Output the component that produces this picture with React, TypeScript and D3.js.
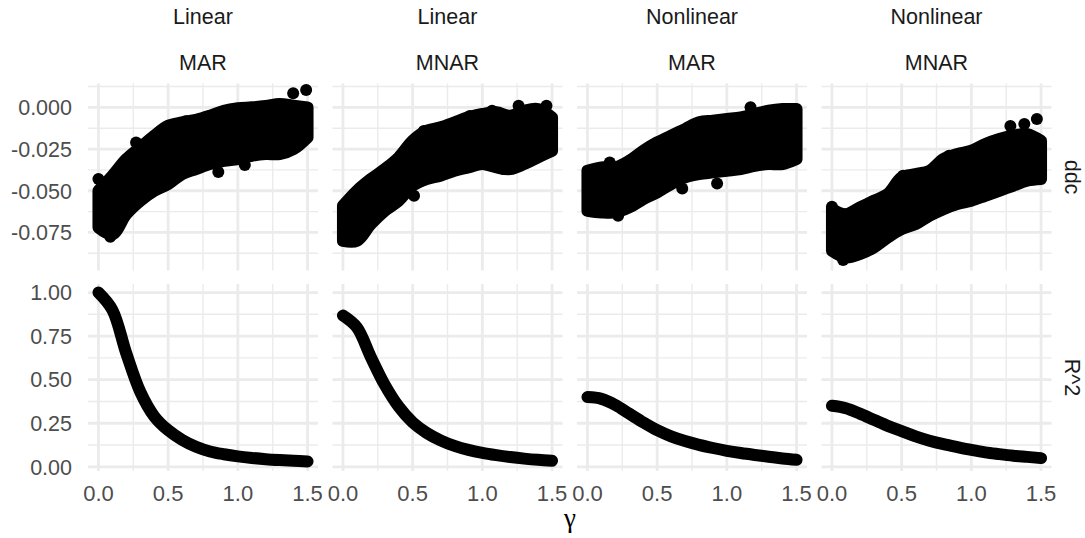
import React from "react";
import { scaleLinear, area, line, curveCatmullRom } from "d3";

// facet columns
const models = ["Linear", "Linear", "Nonlinear", "Nonlinear"];
const mechanisms = ["MAR", "MNAR", "MAR", "MNAR"];
const rowLabels = ["ddc", "R^2"];

// gamma grid the values were read at
const gammas = [0, 0.1, 0.2, 0.3, 0.4, 0.5, 0.6, 0.7, 0.8, 0.9, 1.0, 1.1, 1.2, 1.3, 1.4, 1.5];

// ddc point cloud: upper / lower edge (point centres)
const ddcUpper = [
  [-0.05, -0.041, -0.031, -0.024, -0.017, -0.011, -0.009, -0.0075, -0.005, -0.002, -0.0005, 0.0, 0.0008, 0.002, 0.001, 0.0],
  [-0.059, -0.05, -0.043, -0.037, -0.03, -0.02, -0.014, -0.012, -0.009, -0.006, -0.004, -0.003, -0.005, -0.002, -0.001, -0.006],
  [-0.038, -0.036, -0.036, -0.032, -0.026, -0.021, -0.017, -0.013, -0.009, -0.008, -0.007, -0.006, -0.004, -0.002, -0.001, -0.001],
  [-0.061, -0.064, -0.06, -0.056, -0.052, -0.042, -0.04, -0.038, -0.031, -0.028, -0.026, -0.022, -0.019, -0.017, -0.016, -0.02],
];
const ddcLower = [
  [-0.072, -0.076, -0.064, -0.056, -0.05, -0.046, -0.04, -0.037, -0.034, -0.032, -0.031, -0.029, -0.028, -0.028, -0.025, -0.018],
  [-0.08, -0.08, -0.07, -0.062, -0.056, -0.047, -0.043, -0.041, -0.038, -0.036, -0.034, -0.036, -0.037, -0.034, -0.03, -0.026],
  [-0.062, -0.063, -0.063, -0.06, -0.055, -0.051, -0.046, -0.042, -0.04, -0.039, -0.038, -0.037, -0.035, -0.034, -0.034, -0.031],
  [-0.086, -0.09, -0.088, -0.084, -0.078, -0.073, -0.07, -0.065, -0.061, -0.058, -0.056, -0.053, -0.05, -0.047, -0.044, -0.043],
];
// stray points at or outside the edge of the main cloud [gamma, ddc]
const ddcOutliers = [
  [[0.0, -0.043], [0.085, -0.0775], [0.27, -0.021], [0.43, -0.0154], [0.86, -0.0388], [1.05, -0.0346], [1.397, 0.0084], [1.49, 0.0104], [0.63, -0.0083], [1.21, -0.028]],
  [[0.51, -0.053], [1.26, 0.001], [1.46, 0.001], [1.07, -0.002], [0.58, -0.0142], [0.91, -0.0052], [1.15, -0.037]],
  [[0.16, -0.033], [1.17, 0.0], [0.68, -0.0486], [0.93, -0.0456], [0.22, -0.065], [0.71, -0.013], [1.47, -0.0012]],
  [[1.28, -0.0112], [1.38, -0.01], [1.47, -0.007], [0.08, -0.0915], [0.0, -0.0596], [0.51, -0.041], [0.84, -0.029]],
];

// R^2 curves
const r2Values = [
  [1.0, 0.9, 0.65, 0.43, 0.29, 0.21, 0.155, 0.115, 0.088, 0.072, 0.06, 0.051, 0.044, 0.039, 0.035, 0.031],
  [0.868, 0.8, 0.63, 0.47, 0.345, 0.255, 0.195, 0.152, 0.12, 0.097, 0.08, 0.067, 0.056, 0.047, 0.04, 0.035],
  [0.4, 0.39, 0.355, 0.305, 0.255, 0.21, 0.175, 0.148, 0.126, 0.108, 0.092, 0.079, 0.068, 0.058, 0.048, 0.04],
  [0.35, 0.336, 0.305, 0.27, 0.235, 0.205, 0.175, 0.15, 0.13, 0.113, 0.097, 0.083, 0.073, 0.064, 0.057, 0.05],
];

// ticks
const xMajor = [0, 0.5, 1, 1.5];
const xMinor = [0.25, 0.75, 1.25];
const xTickLabels = ["0.0", "0.5", "1.0", "1.5"];
const ddcMajor = [-0.075, -0.05, -0.025, 0];
const ddcMinor = [-0.0875, -0.0625, -0.0375, -0.0125, 0.0125];
const ddcTickLabels = ["-0.075", "-0.050", "-0.025", "0.000"];
const r2Major = [0, 0.25, 0.5, 0.75, 1];
const r2Minor = [0.125, 0.375, 0.625, 0.875];
const r2TickLabels = ["0.00", "0.25", "0.50", "0.75", "1.00"];

const W = 1085;
const H = 538;
const panelLeft = 88;
const panelW = 230;
const panelStep = 244.5;
const rowTop = [83.5, 284];
const panelH = 187;
const r = 6;
const font = "'Liberation Sans', Arial, sans-serif";

export default function App() {
  const yScales = [
    scaleLinear().domain([-0.0978, 0.0143]).range([rowTop[0] + panelH, rowTop[0]]),
    scaleLinear().domain([-0.024, 1.049]).range([rowTop[1] + panelH, rowTop[1]]),
  ];
  const majors = [ddcMajor, r2Major];
  const minors = [ddcMinor, r2Minor];
  const yLabels = [ddcTickLabels, r2TickLabels];

  return (
    <svg width={W} height={H} style={{ position: "absolute", left: 0, top: 0, background: "white" }}>
      {models.map((m, i) => {
        const left = panelLeft + i * panelStep;
        const x = scaleLinear().domain([-0.075, 1.575]).range([left, left + panelW]);
        const cx = left + panelW / 2;
        const cloud = area<number>()
          .x((g) => x(g))
          .y0((_, k) => yScales[0](ddcLower[i][k]))
          .y1((_, k) => yScales[0](ddcUpper[i][k]))
          .curve(curveCatmullRom);
        const r2line = line<number>()
          .x((g) => x(g))
          .y((_, k) => yScales[1](r2Values[i][k]))
          .curve(curveCatmullRom);
        return (
          <g key={i}>
            <text x={cx} y={24} textAnchor="middle" fontFamily={font} fontSize={21.5} fill="#1a1a1a">{m}</text>
            <text x={cx} y={70} textAnchor="middle" fontFamily={font} fontSize={21.5} fill="#1a1a1a">{mechanisms[i]}</text>
            {[0, 1].map((row) => {
              const y = yScales[row];
              const top = rowTop[row];
              return (
                <g key={row}>
                  {minors[row].map((v) => (
                    <line key={"hm" + v} x1={left} x2={left + panelW} y1={y(v)} y2={y(v)} stroke="#ebebeb" strokeWidth={1.4} />
                  ))}
                  {xMinor.map((v) => (
                    <line key={"vm" + v} x1={x(v)} x2={x(v)} y1={top} y2={top + panelH} stroke="#ebebeb" strokeWidth={1.4} />
                  ))}
                  {majors[row].map((v) => (
                    <line key={"hM" + v} x1={left} x2={left + panelW} y1={y(v)} y2={y(v)} stroke="#ebebeb" strokeWidth={2.8} />
                  ))}
                  {xMajor.map((v) => (
                    <line key={"vM" + v} x1={x(v)} x2={x(v)} y1={top} y2={top + panelH} stroke="#ebebeb" strokeWidth={2.8} />
                  ))}
                </g>
              );
            })}
            <path d={cloud(gammas) || ""} fill="black" stroke="black" strokeWidth={2 * r} strokeLinejoin="round" />
            {ddcOutliers[i].map(([g, v], k) => (
              <circle key={k} cx={x(g)} cy={yScales[0](v)} r={r} fill="black" />
            ))}
            <path d={r2line(gammas) || ""} fill="none" stroke="black" strokeWidth={2 * r} strokeLinecap="round" strokeLinejoin="round" />
            {xMajor.map((v, k) => (
              <text key={v} x={x(v)} y={501} textAnchor="middle" fontFamily={font} fontSize={22} fill="#4d4d4d">{xTickLabels[k]}</text>
            ))}
          </g>
        );
      })}
      {[0, 1].map((row) => (
        <g key={row}>
          {majors[row].map((v, k) => (
            <text key={v} x={72} y={yScales[row](v)} dy="0.36em" textAnchor="end" fontFamily={font} fontSize={21.5} fill="#4d4d4d">{yLabels[row][k]}</text>
          ))}
          <text
            transform={`translate(1065,${rowTop[row] + panelH / 2}) rotate(90)`}
            textAnchor="middle"
            fontFamily={font}
            fontSize={21.5}
            fill="#1a1a1a"
          >{rowLabels[row]}</text>
        </g>
      ))}
      <text x={570} y={527} textAnchor="middle" fontFamily="'Liberation Serif', 'DejaVu Serif', serif" fontSize={27} fill="black">γ</text>
    </svg>
  );
}
